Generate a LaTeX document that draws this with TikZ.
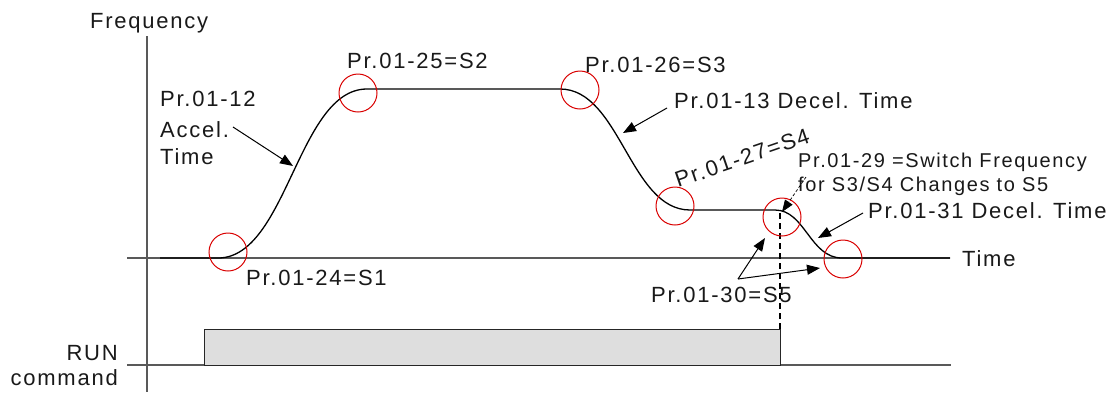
\documentclass[tikz,border=0pt]{standalone}
\usepackage{fontspec}
\setmainfont{Liberation Sans}[LetterSpace=8]
\usetikzlibrary{arrows.meta}
\begin{document}
\begin{tikzpicture}[x=1pt,y=-1pt,
  lbl/.style={font=\fontsize{22}{26}\selectfont, inner sep=0pt, text=black!90},
  slbl/.style={font=\fontsize{20}{24}\selectfont, inner sep=0pt, text=black!90},
  axisline/.style={draw=black!65, line width=1.3pt},
  curveline/.style={draw=black, line width=1.3pt},
  ring/.style={draw=red!85!black, line width=1pt, circle, minimum size=38pt, inner sep=0pt},
  pointer/.style={draw=black, line width=1pt, -{Triangle[length=13pt,width=10pt]}},
  runbox/.style={draw=black!85, line width=1pt, fill=black!13}
]
\useasboundingbox (0,0) rectangle (1114,392);

% axes
\coordinate (yTop) at (147,36);
\coordinate (yBot) at (147,392);
\coordinate (tL) at (127,258);
\coordinate (tR) at (950,258);
\coordinate (rL) at (127,365);
\coordinate (rR) at (951,365);
\draw[axisline] (yTop) -- (yBot);
\draw[axisline] (tL) -- (tR);
\draw[axisline] (rL) -- (rR);

% RUN box
\coordinate (boxA) at (204,365);
\coordinate (boxB) at (780,329);
\draw[runbox] (boxA) rectangle (boxB);

% frequency curve
\coordinate (c0) at (160,258);
\coordinate (c1) at (218,258);
\coordinate (c2) at (367,89);
\coordinate (c3) at (560,89);
\coordinate (c4) at (690,210);
\coordinate (c5) at (775,210);
\coordinate (c6) at (842,258);
\coordinate (c7) at (950,258);
\draw[curveline] (c0) -- (c1) .. controls (287,258) and (298,89) .. (c2) -- (c3)
  .. controls (620,89) and (630,210) .. (c4) -- (c5)
  .. controls (805,210) and (810,258) .. (c6) -- (c7);

% dashed switch line
\coordinate (dTop) at (780,213);
\coordinate (dBot) at (780,329);
\draw[black, line width=1.3pt, dash pattern=on 6pt off 4pt] (dTop) -- (dBot);

% circles
\node[ring] (s1) at (228,252) {};
\node[ring] (s2) at (358,93) {};
\node[ring] (s3) at (580,90) {};
\node[ring] (s4) at (675,206) {};
\node[ring] (s5a) at (782,217) {};
\node[ring] (s5b) at (843,259) {};

% labels
\node[lbl, anchor=base west] (freq) at (90,28) {Frequency};
\node[lbl, anchor=base west] (lS2) at (347,68) {Pr.01-25=S2};
\node[lbl, anchor=base west] (lS3) at (585,72) {Pr.01-26=S3};
\node[lbl, anchor=base west] (l12) at (160,106) {Pr.01-12};
\node[lbl, anchor=base west] (lAcc) at (160,137) {Accel.};
\node[lbl, anchor=base west] (lAccT) at (160,164) {Time};
\node[lbl, anchor=base west] (l13) at (674,108) {Pr.01-13 Decel. Time};
\node[lbl, anchor=base west, rotate=19] (lS4) at (678,188) {Pr.01-27=S4};
\node[slbl, anchor=base west] (l29a) at (798,167) {Pr.01-29 =Switch Frequency};
\node[slbl, anchor=base west] (l29b) at (798,191) {for S3/S4 Changes to S5};
\node[lbl, anchor=base west] (l31) at (868,218) {Pr.01-31 Decel. Time};
\node[lbl, anchor=base west] (lTime) at (962,266) {Time};
\node[lbl, anchor=base west] (lS1) at (246,285) {Pr.01-24=S1};
\node[lbl, anchor=base west] (lS5) at (651,302) {Pr.01-30=S5};
\node[lbl, anchor=base east] (lRun) at (118,360) {RUN};
\node[lbl, anchor=base east] (lCmd) at (118,385) {command};

% pointers
\coordinate (aAccT) at (233,127);
\coordinate (aAccH) at (293,166);
\draw[pointer] (aAccT) -- (aAccH);
\coordinate (a13T) at (667,108);
\coordinate (a13H) at (623,133);
\draw[pointer] (a13T) -- (a13H);
\coordinate (a31T) at (863,213);
\coordinate (a31H) at (818,238);
\draw[pointer] (a31T) -- (a31H);
\coordinate (a30T) at (738,279);
\coordinate (a30H1) at (765,238);
\coordinate (a30H2) at (820,268);
\draw[pointer] (a30T) -- (a30H1);
\draw[pointer] (a30T) -- (a30H2);
\coordinate (a29T) at (806,177);
\coordinate (a29H) at (782,212);
\draw[black, line width=0.7pt, dash pattern=on 3pt off 2pt, -{Triangle[length=12pt,width=9pt]}] (a29T) -- (a29H);
\end{tikzpicture}
\end{document}
